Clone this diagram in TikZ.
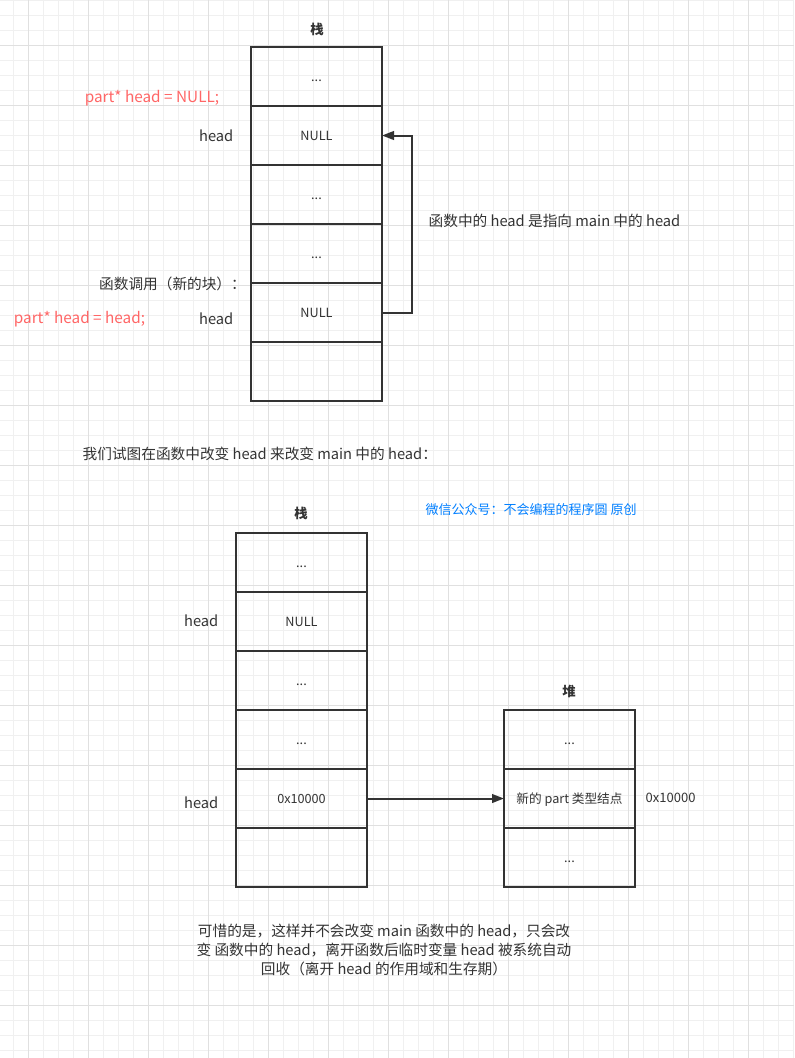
\documentclass[tikz,border=0pt]{standalone}
\usepackage{fontspec}
\setmainfont{Noto Sans CJK SC}
\usepackage{xcolor}
\usetikzlibrary{arrows.meta,positioning}
\definecolor{ink}{HTML}{333333}
\definecolor{codered}{HTML}{FF6666}
\definecolor{wxblue}{HTML}{007FFF}
\definecolor{gridminor}{HTML}{F0F0F0}
\definecolor{gridmajor}{HTML}{E0E0E0}

\begin{document}
\begin{tikzpicture}[x=0.75pt,y=-0.75pt,
    cell/.style={draw=ink,line width=1.5pt,minimum width=98.25pt,
        minimum height=44.25pt,inner sep=0pt,outer sep=0pt,text=ink,
        text height=8pt,text depth=1pt,
        font=\fontsize{9.5}{11}\selectfont},
    title/.style={text=ink,font=\fontsize{10}{12}\selectfont\bfseries},
    label/.style={text=ink,font=\fontsize{11}{14.25}\selectfont},
    code/.style={text=codered,font=\fontsize{11.5}{14.25}\selectfont},
    arr/.style={draw=ink,line width=1.5pt,
        -{Triangle[length=9pt,width=6.5pt]}},
    ]
    % Page and grid
    \useasboundingbox (0,0) rectangle (794,1058);
    \fill[white] (0,0) rectangle (794,1058);
    \foreach \gx in {13.5,28.5,...,793.5}
        \draw[gridminor,line width=0.75pt] (\gx,0) -- (\gx,1058);
    \foreach \gy in {0,15,...,1050}
        \draw[gridminor,line width=0.75pt] (0,\gy) -- (794,\gy);
    \foreach \gx in {28.5,88.5,...,748.5}
        \draw[gridmajor,line width=0.75pt] (\gx,0) -- (\gx,1058);
    \foreach \gy in {45,105,...,1005}
        \draw[gridmajor,line width=0.75pt] (0,\gy) -- (794,\gy);

    % First stack
    \node[title] (stackA) at (317,29) {栈};
    \node[cell] (a1) at (316.5,76.5) {...};
    \node[cell,below=0pt of a1] (a2) {NULL};
    \node[cell,below=0pt of a2] (a3) {...};
    \node[cell,below=0pt of a3] (a4) {...};
    \node[cell,below=0pt of a4] (a5) {NULL};
    \node[cell,below=0pt of a5] (a6) {};
    % Labels of the first stack
    \node[code] (declMain) at (152,98) {part* head = NULL;};
    \node[label,anchor=east] (headMain) at (238,136) {head};
    \node[label] (callNote) at (172.5,284) {函数调用（新的块）：};
    \node[code] (declFunc) at (79.5,319) {part* head = head;};
    \node[label,anchor=east] (headFunc) at (238,319) {head};
    % Pointer back to main
    \draw[arr] (a5.east) -- ++(30,0) |- (a2.east);
    \node[label,anchor=west] (pointNote) at (424,221)
        {函数中的 head 是指向 main 中的 head};

    \node[label,anchor=west] (tryNote) at (78,454)
        {我们试图在函数中改变 head 来改变 main 中的 head：};
    \node[text=wxblue,font=\fontsize{9.75}{12}\selectfont,anchor=west]
        (wechat) at (421,510) {微信公众号：不会编程的程序圆 原创};

    % Second stack
    \node[title] (stackB) at (301,513) {栈};
    \node[cell] (b1) at (301.5,562.5) {...};
    \node[cell,below=0pt of b1] (b2) {NULL};
    \node[cell,below=0pt of b2] (b3) {...};
    \node[cell,below=0pt of b3] (b4) {...};
    \node[cell,below=0pt of b4] (b5) {0x10000};
    \node[cell,below=0pt of b5] (b6) {};
    \node[label,anchor=east] (headB2) at (223,621) {head};
    \node[label,anchor=east] (headB5) at (223,803) {head};

    % Heap
    \node[title] (heap) at (569,691) {堆};
    \node[cell] (h1) at (569.5,739.5) {...};
    \node[cell,below=0pt of h1] (h2) {新的 part 类型结点};
    \node[cell,below=0pt of h2] (h3) {...};
    \node[text=ink,font=\fontsize{9.75}{11}\selectfont,anchor=west]
        (addr) at (641,798) {0x10000};
    \draw[arr] (b5.east) -- (h2.west);

    % Conclusion
    \node[label,align=center] (sorry) at (384,950)
        {可惜的是，这样并不会改变 main 函数中的 head，只会改\\
         变 函数中的 head，离开函数后临时变量 head 被系统自动\\
         回收（离开 head 的作用域和生存期）};
\end{tikzpicture}
\end{document}
